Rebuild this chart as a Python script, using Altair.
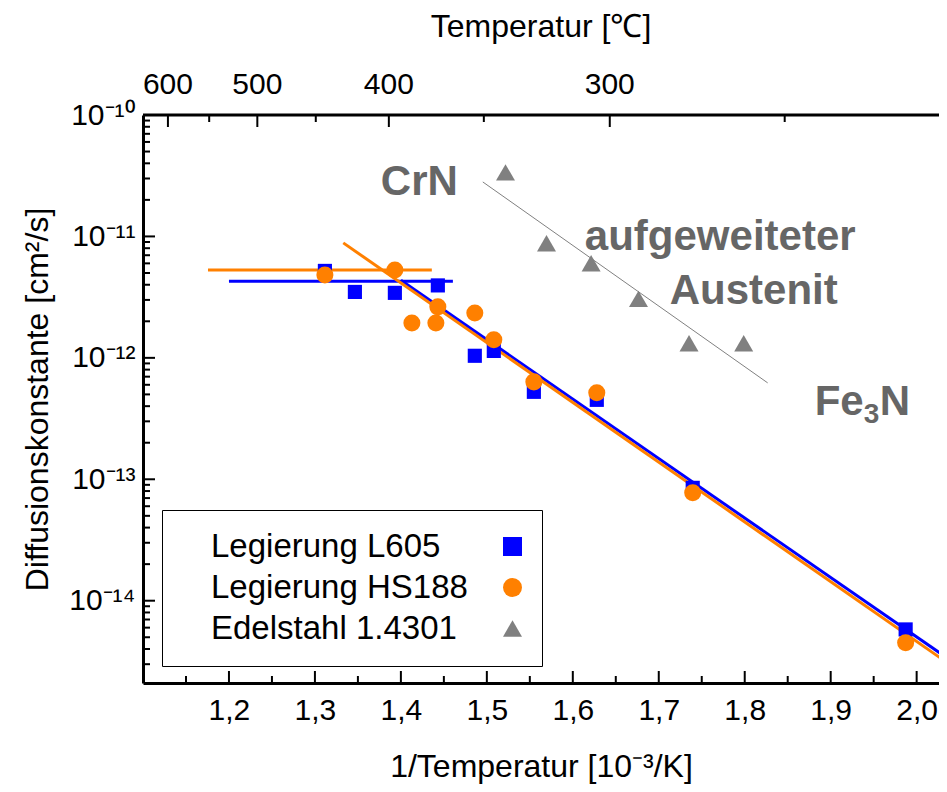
import altair as alt
import pandas as pd

FONT = "Liberation Sans"

# ---------------- data ----------------
series_names = ["Legierung L605", "Legierung HS188", "Edelstahl 1.4301"]
series_colors = ["#0000FF", "#FF8000", "#808080"]
series_shapes = ["square", "circle", "triangle-up"]
series_sizes = [200, 290, 361]

l605_x = [1.3116, 1.3465, 1.3930, 1.4430, 1.4860, 1.5081, 1.5547, 1.6279, 1.7395, 1.9872]
l605_d = [5.20e-12, 3.49e-12, 3.43e-12, 3.95e-12, 1.04e-12, 1.14e-12, 5.25e-13, 4.51e-13, 8.5e-14, 5.8e-15]

hs188_x = [1.3116, 1.3930, 1.4128, 1.4407, 1.4430, 1.4860, 1.5081, 1.5547, 1.6279, 1.7395, 1.9872]
hs188_d = [4.82e-12, 5.30e-12, 1.94e-12, 1.94e-12, 2.63e-12, 2.34e-12, 1.41e-12, 6.34e-13, 5.15e-13, 7.74e-14, 4.5e-15]

steel_x = [1.5217, 1.5694, 1.6213, 1.6764, 1.7352, 1.7988]
steel_d = [3.37e-11, 8.79e-12, 6.01e-12, 3.06e-12, 1.32e-12, 1.32e-12]

# fitted lines (two end points each)
l605_plateau_x = [1.200, 1.4605]
l605_plateau_d = [4.27e-12, 4.27e-12]
hs188_plateau_x = [1.1756, 1.436]
hs188_plateau_d = [5.3e-12, 5.3e-12]
l605_fit_x = [1.40, 2.05]
l605_fit_d = [4.36e-12, 2.86e-15]
hs188_fit_x = [1.333, 2.05]
hs188_fit_d = [8.85e-12, 2.62e-15]
steel_fit_x = [1.4953, 1.8267]
steel_fit_d = [2.81e-11, 6.22e-13]

# annotations
note_text = ["CrN", "aufgeweiteter", "Austenit"]
note_x = [1.3767, 1.6140, 1.7128]
note_d = [2.2e-11, 7.67e-12, 2.78e-12]
# "Fe3N" with subscript 3: pieces sharing one anchor
fe3n_parts = ["Fe", "3", "N"]
fe3n_x = 1.8814
fe3n_d = 3.36e-13

# axes
x_major = [1.2, 1.3, 1.4, 1.5, 1.6, 1.7, 1.8, 1.9, 2.0]
x_minor = [1.15, 1.25, 1.35, 1.45, 1.55, 1.65, 1.75, 1.85, 1.95]
y_major = [1e-10, 1e-11, 1e-12, 1e-13, 1e-14]
y_exponents = [-10, -11, -12, -13, -14]
y_labels = ["10\u207b\u00b9\u2070", "10\u207b\u00b9\u00b9", "10\u207b\u00b9\u00b2", "10\u207b\u00b9\u00b3", "10\u207b\u00b9\u2074"]
y_minor = [k * 10.0 ** e for e in [-15, -14, -13, -12, -11] for k in range(2, 10)]
top_labels = ["600", "500", "400", "300"]
top_major_pos = [1.129, 1.233, 1.386, 1.643]
top_minor_pos = [1.177, 1.301, 1.4965, 1.8465]

X_DOMAIN = [1.1, 2.026]
Y_DOMAIN = [2.1e-15, 1e-10]
W, H = 796, 568

y_minor = [v for v in y_minor if Y_DOMAIN[0] <= v <= Y_DOMAIN[1]]

# ---------------- tables ----------------
series_tables = [
    pd.DataFrame({"series": series_names[0], "x": l605_x, "d": l605_d}),
    pd.DataFrame({"series": series_names[1], "x": hs188_x, "d": hs188_d}),
    pd.DataFrame({"series": series_names[2], "x": steel_x, "d": steel_d}),
]

def seg(name, xs, ds):
    return pd.DataFrame({"seg": name, "x": xs, "d": ds})

blue_lines = pd.concat([seg("p", l605_plateau_x, l605_plateau_d), seg("f", l605_fit_x, l605_fit_d)])
orange_lines = pd.concat([seg("p", hs188_plateau_x, hs188_plateau_d), seg("f", hs188_fit_x, hs188_fit_d)])
gray_line = seg("g", steel_fit_x, steel_fit_d)
notes = pd.DataFrame({"t": note_text, "x": note_x, "d": note_d})

label_expr_y = ""
for e, lab in zip(y_exponents, y_labels):
    label_expr_y += f"round(log(datum.value)/LN10) == {e} ? '{lab}' : "
label_expr_y += "''"


def X(field="x"):
    return alt.X(
        f"{field}:Q",
        scale=alt.Scale(domain=X_DOMAIN, nice=False, zero=False),
        axis=alt.Axis(
            values=x_major,
            labelExpr="replace(format(datum.value, '.1f'), '.', ',')",
            ticks=False, grid=False,
            domainWidth=3, domainColor="black",
            labelFont=FONT, labelFontSize=30, labelColor="black", labelPadding=12,
            title="1/Temperatur [10\u207b\u00b3/K]",
            titleFont=FONT, titleFontSize=32, titleFontWeight="normal",
            titleColor="black", titlePadding=26,
        ),
    )


def Y(field="d"):
    return alt.Y(
        f"{field}:Q",
        scale=alt.Scale(type="log", domain=Y_DOMAIN, nice=False),
        axis=alt.Axis(
            values=y_major,
            labelExpr=label_expr_y,
            ticks=False, grid=False,
            domainWidth=3, domainColor="black",
            labelFont=FONT, labelFontSize=30, labelColor="black", labelPadding=8,
            title="Diffusionskonstante [cm\u00b2/s]",
            titleFont=FONT, titleFontSize=32, titleFontWeight="normal",
            titleColor="black", titlePadding=14,
        ),
    )


# inward ticks
def xticks(vals, length, top=False):
    df = pd.DataFrame({"v": vals})
    y0, y1 = (0, length) if top else (H, H - length)
    return alt.Chart(df).mark_rule(color="black", strokeWidth=2).encode(
        x=X("v"), y=alt.value(y0), y2=alt.value(y1)
    )


def yticks(vals, length):
    df = pd.DataFrame({"v": vals})
    return alt.Chart(df).mark_rule(color="black", strokeWidth=2).encode(
        y=Y("v"), x=alt.value(0), x2=alt.value(length)
    )


top_line = alt.Chart(pd.DataFrame({"v": [X_DOMAIN[0]]})).mark_rule(
    color="black", strokeWidth=3
).encode(x=alt.value(0), x2=alt.value(W), y=alt.value(0))

top_text = alt.Chart(pd.DataFrame({"v": top_major_pos, "t": top_labels})).mark_text(
    font=FONT, fontSize=30, color="black", baseline="middle", align="center"
).encode(x=X("v"), y=alt.value(-30), text="t:N")

lines_blue = alt.Chart(blue_lines).mark_line(color="#0000FF", strokeWidth=3, clip=True).encode(
    x=X(), y=Y(), detail="seg:N"
)
lines_orange = alt.Chart(orange_lines).mark_line(color="#FF8000", strokeWidth=3, clip=True).encode(
    x=X(), y=Y(), detail="seg:N"
)
line_gray = alt.Chart(gray_line).mark_line(color="#808080", strokeWidth=1).encode(x=X(), y=Y())

legend = alt.Legend(
    title=None, orient="none", legendX=19, legendY=395,
    padding=20, strokeColor="black", fillColor="white",
    labelFont=FONT, labelFontSize=33, labelColor="black", labelLimit=400,
    symbolSize=360, symbolOffset=314, labelOffset={"expr": "-318"}, rowPadding=7,
    symbolStrokeWidth=0,
)

point_layers = []
for tbl, size in zip(series_tables, series_sizes):
    point_layers.append(
        alt.Chart(tbl).mark_point(filled=True, opacity=1, size=size).encode(
            x=X(), y=Y(),
            color=alt.Color("series:N", scale=alt.Scale(domain=series_names, range=series_colors), legend=legend),
            shape=alt.Shape("series:N", scale=alt.Scale(domain=series_names, range=series_shapes), legend=legend),
        )
    )

note_style = dict(font=FONT, fontWeight="bold", color="#666666", align="left", baseline="alphabetic")
note_layer = alt.Chart(notes).mark_text(fontSize=42, **note_style).encode(x=X(), y=Y(), text="t:N")

fe_df = pd.DataFrame({"x": [fe3n_x], "d": [fe3n_d]})
fe_part = alt.Chart(fe_df).mark_text(fontSize=42, text=fe3n_parts[0], **note_style).encode(x=X(), y=Y())
sub_part = alt.Chart(fe_df).mark_text(fontSize=28, dx=49, dy=8, text=fe3n_parts[1], **note_style).encode(x=X(), y=Y())
n_part = alt.Chart(fe_df).mark_text(fontSize=42, dx=65, text=fe3n_parts[2], **note_style).encode(x=X(), y=Y())

chart = alt.layer(
    lines_blue, lines_orange, line_gray, *point_layers, note_layer, fe_part, sub_part, n_part,
    xticks(x_major, 12), xticks(x_minor, 7),
    xticks(top_major_pos, 12, top=True), xticks(top_minor_pos, 7, top=True),
    yticks(y_major, 12), yticks(y_minor, 7),
    top_line, top_text,
).properties(
    width=W, height=H,
    padding={"left": 135, "top": 107, "right": 0, "bottom": 101},
    autosize=alt.AutoSizeParams(type="none"),
    title=alt.TitleParams(
        "Temperatur [\u2103]", font=FONT, fontSize=32, fontWeight="normal",
        color="black", anchor="middle", offset=26,
    ),
).configure_view(stroke=None).configure_legend(strokeWidth=1.5).configure(background="white")

chart.save("out.html", embed_options={"renderer": "svg", "actions": False})
